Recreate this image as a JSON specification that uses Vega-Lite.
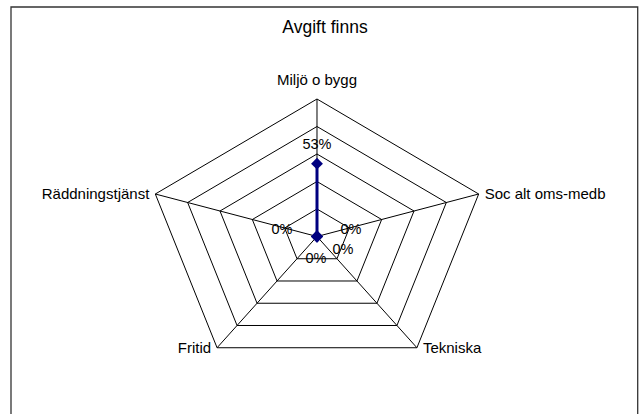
{
  "$schema": "https://vega.github.io/schema/vega-lite/v6.json",
  "width": 640,
  "height": 414,
  "autosize": {"type": "none"},
  "padding": 0,
  "background": "white",
  "config": {"view": {"stroke": null}, "font": "Liberation Sans", "text": {"font": "Liberation Sans", "fontSize": 15, "color": "black"}},
  "title": {"text": "Avgift finns", "fontSize": 17.5, "fontWeight": "normal", "font": "Liberation Sans", "color": "black", "anchor": "middle", "offset": -50, "baseline": "alphabetic", "dx": 5},
  "datasets": {
    "axes": [
      {"cat": "Miljö o bygg", "k": 0, "levels": [0.2, 0.4, 0.6, 0.8, 1]},
      {"cat": "Soc alt oms-medb", "k": 1, "levels": [0.2, 0.4, 0.6, 0.8, 1]},
      {"cat": "Tekniska", "k": 2, "levels": [0.2, 0.4, 0.6, 0.8, 1]},
      {"cat": "Fritid", "k": 3, "levels": [0.2, 0.4, 0.6, 0.8, 1]},
      {"cat": "Räddningstjänst", "k": 4, "levels": [0.2, 0.4, 0.6, 0.8, 1]}
    ],
    "series": [
      {"cat": "Miljö o bygg", "k": 0, "value": 0.53},
      {"cat": "Soc alt oms-medb", "k": 1, "value": 0},
      {"cat": "Tekniska", "k": 2, "value": 0},
      {"cat": "Fritid", "k": 3, "value": 0},
      {"cat": "Räddningstjänst", "k": 4, "value": 0}
    ]
  },
  "layer": [
    {
      "data": {"values": [{"frame": 1}]},
      "mark": {"type": "rect", "fill": null, "stroke": "#333333", "strokeWidth": 1.3},
      "encoding": {
        "x": {"datum": -1.8, "type": "quantitative", "scale": {"domain": [-1.8647, 1.9], "nice": false, "zero": false}, "axis": null},
        "x2": {"datum": 1.8865},
        "y": {"datum": 1.669, "type": "quantitative", "scale": {"domain": [-1.2909, 1.72], "nice": false, "zero": false}, "axis": null},
        "y2": {"datum": -2}
      }
    },
    {
      "data": {"name": "axes"},
      "transform": [
        {"flatten": ["levels"], "as": ["level"]},
        {"calculate": "datum.level*sin(2*PI*datum.k/5)", "as": "x1"},
        {"calculate": "datum.level*cos(2*PI*datum.k/5)", "as": "y1"},
        {"calculate": "datum.level*sin(2*PI*(datum.k+1)/5)", "as": "x2"},
        {"calculate": "datum.level*cos(2*PI*(datum.k+1)/5)", "as": "y2"}
      ],
      "mark": {"type": "rule", "color": "black", "strokeWidth": 1},
      "encoding": {
        "x": {"field": "x1", "type": "quantitative", "scale": {"domain": [-1.8647, 1.9], "nice": false, "zero": false}, "axis": null},
        "y": {"field": "y1", "type": "quantitative", "scale": {"domain": [-1.2909, 1.72], "nice": false, "zero": false}, "axis": null},
        "x2": {"field": "x2"},
        "y2": {"field": "y2"}
      }
    },
    {
      "data": {"name": "axes"},
      "transform": [
        {"calculate": "sin(2*PI*datum.k/5)", "as": "ax"},
        {"calculate": "cos(2*PI*datum.k/5)", "as": "ay"}
      ],
      "mark": {"type": "rule", "color": "black", "strokeWidth": 1},
      "encoding": {
        "x": {"field": "ax", "type": "quantitative", "scale": {"domain": [-1.8647, 1.9], "nice": false, "zero": false}, "axis": null},
        "y": {"field": "ay", "type": "quantitative", "scale": {"domain": [-1.2909, 1.72], "nice": false, "zero": false}, "axis": null},
        "x2": {"datum": 0},
        "y2": {"datum": 0}
      }
    },
    {
      "data": {"name": "axes"},
      "transform": [
        {"calculate": "sin(2*PI*datum.k/5)", "as": "ax"},
        {"calculate": "cos(2*PI*datum.k/5)", "as": "ay"}
      ],
      "layer": [
        {
          "transform": [{"filter": "datum.k == 0"}],
          "mark": {"type": "text", "align": "center", "baseline": "alphabetic", "dy": -14}
        },
        {
          "transform": [{"filter": "datum.k == 1 || datum.k == 2"}],
          "mark": {"type": "text", "align": "left", "baseline": "middle", "dx": 6}
        },
        {
          "transform": [{"filter": "datum.k == 3 || datum.k == 4"}],
          "mark": {"type": "text", "align": "right", "baseline": "middle", "dx": -6}
        }
      ],
      "encoding": {
        "x": {"field": "ax", "type": "quantitative", "scale": {"domain": [-1.8647, 1.9], "nice": false, "zero": false}, "axis": null},
        "y": {"field": "ay", "type": "quantitative", "scale": {"domain": [-1.2909, 1.72], "nice": false, "zero": false}, "axis": null},
        "text": {"field": "cat", "type": "nominal"}
      }
    },
    {
      "data": {"name": "series"},
      "transform": [
        {"calculate": "datum.value*sin(2*PI*datum.k/5)", "as": "px"},
        {"calculate": "datum.value*cos(2*PI*datum.k/5)", "as": "py"}
      ],
      "encoding": {
        "x": {"field": "px", "type": "quantitative", "scale": {"domain": [-1.8647, 1.9], "nice": false, "zero": false}, "axis": null},
        "y": {"field": "py", "type": "quantitative", "scale": {"domain": [-1.2909, 1.72], "nice": false, "zero": false}, "axis": null}
      },
      "layer": [
        {
          "mark": {"type": "line", "color": "#000080", "strokeWidth": 3},
          "encoding": {"order": {"field": "k", "type": "quantitative"}}
        },
        {
          "mark": {"type": "point", "shape": "diamond", "filled": true, "color": "#000080", "size": 140, "opacity": 1}
        },
        {
          "transform": [{"filter": "datum.k == 0"}],
          "mark": {"type": "text", "dy": -19, "baseline": "middle", "fontSize": 14.5},
          "encoding": {"text": {"field": "value", "type": "quantitative", "format": ".0%"}}
        },
        {
          "transform": [{"filter": "datum.k == 1"}],
          "mark": {"type": "text", "dx": 34, "dy": -6.5, "baseline": "middle", "fontSize": 14.5},
          "encoding": {"text": {"field": "value", "type": "quantitative", "format": ".0%"}}
        },
        {
          "transform": [{"filter": "datum.k == 2"}],
          "mark": {"type": "text", "dx": 26, "dy": 13, "baseline": "middle", "fontSize": 14.5},
          "encoding": {"text": {"field": "value", "type": "quantitative", "format": ".0%"}}
        },
        {
          "transform": [{"filter": "datum.k == 3"}],
          "mark": {"type": "text", "dx": -1, "dy": 22, "baseline": "middle", "fontSize": 14.5},
          "encoding": {"text": {"field": "value", "type": "quantitative", "format": ".0%"}}
        },
        {
          "transform": [{"filter": "datum.k == 4"}],
          "mark": {"type": "text", "dx": -35, "dy": -6.5, "baseline": "middle", "fontSize": 14.5},
          "encoding": {"text": {"field": "value", "type": "quantitative", "format": ".0%"}}
        }
      ]
    }
  ]
}
